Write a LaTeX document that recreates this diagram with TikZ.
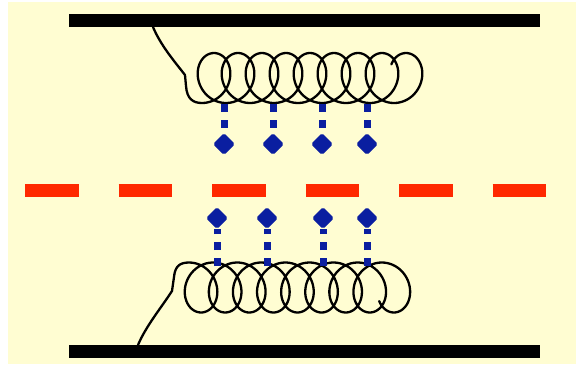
\documentclass[tikz,border=0pt]{standalone}
\usetikzlibrary{shapes.geometric}
\definecolor{paper}{RGB}{255,253,210}
\definecolor{bondblue}{RGB}{10,30,160}
\definecolor{midred}{RGB}{255,40,0}
\begin{document}
\begin{tikzpicture}[x=1pt,y=-1pt,
  bar/.style={fill=black},
  wire/.style={line width=2.3pt, line join=round, line cap=round},
  tether/.style={bondblue, line width=7pt, dash pattern=on 8pt off 8pt},
  head/.style={diamond, fill=bondblue, draw=bondblue, line width=1pt, inner sep=0pt,
    minimum width=21pt, minimum height=21pt, rounded corners=1.5pt}]
\useasboundingbox (0,0) rectangle (576,365);
% backdrop
\fill[paper] (8,2) rectangle (576,364);
% the two walls
\fill[bar] (69,14) rectangle (540,27);
\fill[bar] (69,345) rectangle (540,358);
% dashed mid line
\draw[midred, line width=13pt, dash pattern=on 53.5pt off 40pt] (25,190.5) -- (546,190.5);
% upper coil hanging from the top wall
\draw[wire] (153,27) .. controls (161,46) and (175,62) .. (185,75) -- (186,86)
  .. controls (187,99) and (193,103) .. (202,103)
  -- plot[domain=0:54.41, samples=500]
     ({202+24*\x/(2*pi)+22*sin(\x r)}, {78+25*cos(\x r)});
% lower coil rising from the bottom wall
\draw[wire] (138,345) .. controls (146,326) and (161,308) .. (172,291) -- (174,277)
  .. controls (175,266) and (180,262.5) .. (189,262.5)
  -- plot[domain=0:54.41, samples=500]
     ({189+24.1*\x/(2*pi)+22*sin(\x r)}, {287.5-25*cos(\x r)});
% tethers of the upper coil
\foreach \i/\x in {1/224,2/273,3/322,4/367}{
  \coordinate (ta\i) at (\x,104);
  \node[head] (th\i) at (\x,144) {};
  \draw[tether] (ta\i) -- (th\i);
}
% tethers of the lower coil
\foreach \i/\x in {1/217,2/267,3/323,4/367}{
  \coordinate (ba\i) at (\x,266);
  \node[head] (bh\i) at (\x,218) {};
  \draw[tether] (ba\i) -- (bh\i);
}
\end{tikzpicture}
\end{document}
